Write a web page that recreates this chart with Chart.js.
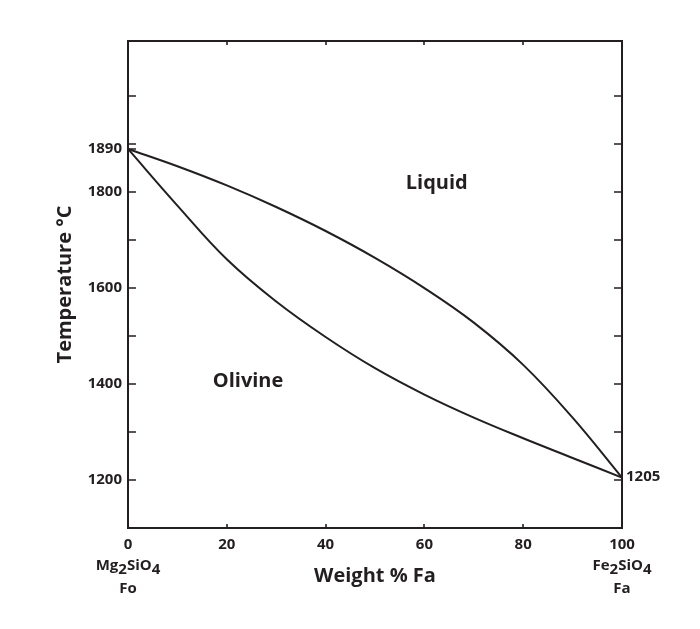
<!DOCTYPE html>
<html>
<head>
<meta charset="utf-8">
<script src="https://cdn.jsdelivr.net/npm/chart.js@4.4.1/dist/chart.umd.min.js"></script>
<style>
  html, body { margin: 0; padding: 0; background: #fff; }
  #wrap { width: 700px; height: 629px; position: relative; }
</style>
</head>
<body>
<div id="wrap"><canvas id="chart"></canvas></div>
<script>
// Fo–Fa binary phase diagram (olivine solid solution)
const faPct    = [0, 10, 20, 30, 40, 50, 60, 70, 80, 90, 100];
const liquidus = [1890, 1854, 1814, 1769, 1719, 1663, 1600, 1528, 1440, 1330, 1205];
const solidus  = [1890, 1772, 1660, 1572, 1498, 1433, 1378, 1330, 1287, 1246, 1205];

const xTicks      = [0, 20, 40, 60, 80, 100];
const yTickMarks  = [1200, 1300, 1400, 1500, 1600, 1700, 1800, 1900, 2000];
const yTickLabels = [1200, 1400, 1600, 1800, 1890];

const INK  = '#231f20';
const FONT = '"Open Sans", Lato, sans-serif';

const pts = ys => faPct.map((x, i) => ({ x, y: ys[i] }));

// text with lowered digits (Mg2SiO4 style)
function chemText(ctx, str, cx, y) {
  const parts = str.split(/(\d)/).filter(s => s);
  const w = parts.reduce((a, p) => a + ctx.measureText(p).width, 0);
  let x = cx - w / 2;
  ctx.textAlign = 'left';
  parts.forEach(p => {
    const sub = /\d/.test(p);
    ctx.fillText(p, x, sub ? y + 4 : y);
    x += ctx.measureText(p).width;
  });
}

const decor = {
  id: 'decor',
  afterDraw(chart) {
    const { ctx, chartArea: a, scales: { x, y } } = chart;
    ctx.save();
    ctx.strokeStyle = INK;
    ctx.lineWidth = 2;
    ctx.strokeRect(a.left, a.top, a.right - a.left, a.bottom - a.top);

    // inward tick marks
    ctx.lineWidth = 1.6;
    ctx.beginPath();
    yTickMarks.forEach(v => {
      const py = Math.round(y.getPixelForValue(v));
      ctx.moveTo(a.left, py);  ctx.lineTo(a.left + 8, py);
      ctx.moveTo(a.right, py); ctx.lineTo(a.right - 8, py);
    });
    const py1890 = Math.round(y.getPixelForValue(1890));
    ctx.moveTo(a.left, py1890); ctx.lineTo(a.left + 8, py1890);
    xTicks.slice(1, -1).forEach(v => {
      const px = Math.round(x.getPixelForValue(v));
      ctx.moveTo(px, a.bottom); ctx.lineTo(px, a.bottom - 4);
      ctx.moveTo(px, a.top);    ctx.lineTo(px, a.top + 4);
    });
    ctx.stroke();

    ctx.fillStyle = INK;
    ctx.textBaseline = 'middle';

    // field labels
    ctx.font = 'bold 20px ' + FONT;
    ctx.textAlign = 'center';
    ctx.fillText('Liquid', x.getPixelForValue(62.5), y.getPixelForValue(1818));
    ctx.fillText('Olivine', x.getPixelForValue(24.3), y.getPixelForValue(1405));

    // end-member temperature on the right
    ctx.font = 'bold 15px ' + FONT;
    ctx.textAlign = 'left';
    ctx.fillText('1205', a.right + 4, y.getPixelForValue(1206));

    // end-member names under the x axis
    chemText(ctx, 'Mg2SiO4', x.getPixelForValue(0), 566);
    chemText(ctx, 'Fe2SiO4', x.getPixelForValue(100), 566);
    ctx.textAlign = 'center';
    ctx.fillText('Fo', x.getPixelForValue(0), 589);
    ctx.fillText('Fa', x.getPixelForValue(100), 589);
    ctx.restore();
  }
};

new Chart(document.getElementById('chart'), {
  type: 'scatter',
  data: {
    datasets: [
      { label: 'Liquidus', data: pts(liquidus) },
      { label: 'Solidus',  data: pts(solidus) },
    ].map(d => ({
      ...d, showLine: true, borderColor: INK, borderWidth: 2,
      pointRadius: 0, tension: 0.4, clip: false,
    })),
  },
  options: {
    responsive: true, maintainAspectRatio: false, animation: false,
    layout: { padding: { left: 0, top: 41, right: 78, bottom: 0 } },
    plugins: { legend: { display: false }, tooltip: { enabled: false } },
    scales: {
      x: {
        type: 'linear', min: 0, max: 100,
        afterBuildTicks: s => { s.ticks = xTicks.map(v => ({ value: v })); },
        afterFit: s => { s.height = 101; },
        grid: { display: false, drawTicks: false },
        border: { display: false },
        ticks: { color: INK, font: { family: FONT, size: 15, weight: 'bold' }, padding: 8, maxRotation: 0,
                 callback: v => String(v) },
        title: { display: true, text: 'Weight % Fa', color: INK,
                 font: { family: FONT, size: 20, weight: 'bold' }, padding: { bottom: 41 } },
      },
      y: {
        type: 'linear', min: 1100, max: 2115,
        afterBuildTicks: s => { s.ticks = yTickLabels.map(v => ({ value: v })); },
        afterFit: s => { s.width = 128; },
        grid: { display: false, drawTicks: false },
        border: { display: false },
        ticks: { color: INK, font: { family: FONT, size: 15, weight: 'bold' }, padding: 6,
                 callback: v => String(v) },
        title: { display: true, text: 'Temperature °C', color: INK,
                 font: { family: FONT, size: 20, weight: 'bold' }, padding: { top: 53 } },
      },
    },
  },
  plugins: [decor],
});
</script>
</body>
</html>
